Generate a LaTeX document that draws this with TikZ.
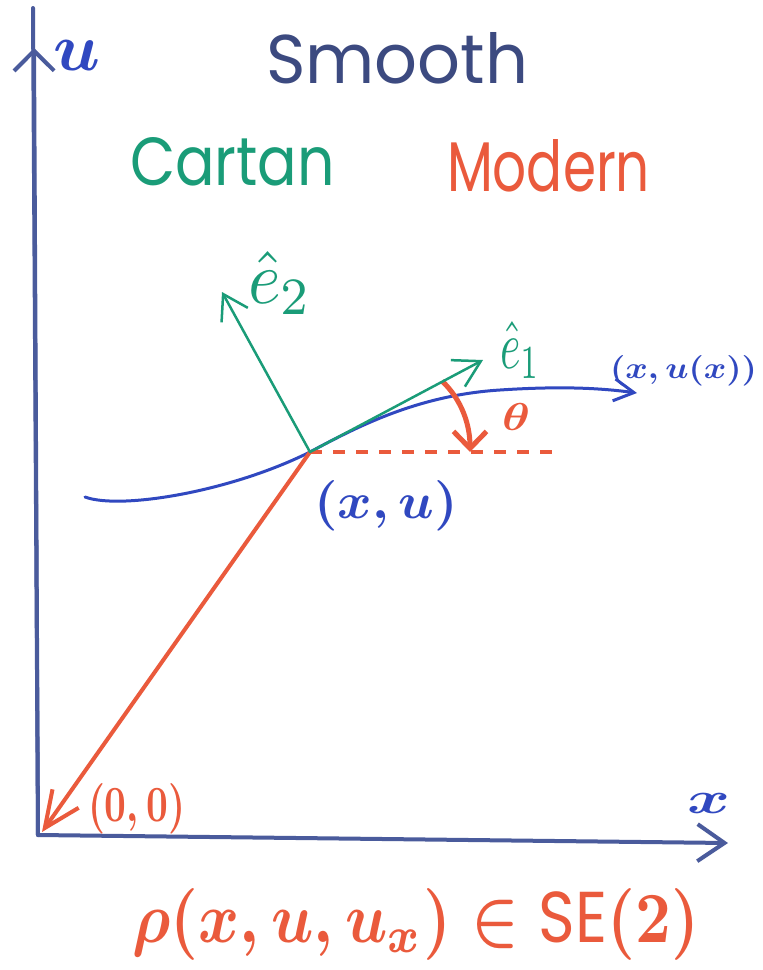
\documentclass[tikz,border=0pt]{standalone}
\usepackage{fontspec}
\usepackage{graphicx}
\setmainfont{Poppins}
\usetikzlibrary{arrows.meta}
\definecolor{axiscol}{HTML}{4A5B9C}
\definecolor{navypen}{HTML}{3C4A80}
\definecolor{bluepen}{HTML}{3048C0}
\definecolor{tealpen}{HTML}{1A9C78}
\definecolor{redpen}{HTML}{EA5A3C}
\begin{document}
\begin{tikzpicture}[x=1pt,y=-1pt,
  lbl/.style={inner sep=0pt, outer sep=0pt, anchor=base west},
  axisline/.style={axiscol, line width=4pt, line cap=round},
  framevec/.style={tealpen, line width=2.5pt, line cap=round},
  curveline/.style={bluepen, line width=3pt, line cap=round},
  redvec/.style={redpen, line width=4pt, line cap=round},
  reddash/.style={redpen, line width=4.5pt, dash pattern=on 12pt off 11pt}
]
\useasboundingbox (0,0) rectangle (763,970);
\fill[white] (0,0) rectangle (763,970);

% key points
\coordinate (O) at (38,835);
\coordinate (Otip) at (42,832);
\coordinate (utop) at (33,8);
\coordinate (uarr) at (34,48);
\coordinate (xend) at (728,843);
\coordinate (P) at (310,452);
\coordinate (E1) at (483,360);
\coordinate (E2) at (222,292);
\coordinate (C0) at (85,497);
\coordinate (C1) at (500,390);
\coordinate (C2) at (637,393);
\coordinate (D1) at (557,452);
\coordinate (T0) at (442,381);
\coordinate (T1) at (470,452);

% axes
\draw[axisline] (O) -- (utop);
\draw[axisline, -{Straight Barb[length=20pt,width=40pt]}] (O) -- (uarr);
\draw[axisline, -{Straight Barb[length=27pt,width=37pt]}] (O) -- (xend);

% curve
\draw[curveline, -{Straight Barb[length=20pt,width=22pt]}] (C0) .. controls (120,510) and (230,492) .. (P)
  .. controls (360,425) and (420,395) .. (C1) .. controls (560,386) and (600,388) .. (C2);

% red position vector and horizontal
\draw[redvec, -{Straight Barb[length=36pt,width=32pt]}] (P) -- (Otip);
\draw[reddash] (P) -- (D1);
\draw[redpen, line width=5pt, -{Straight Barb[length=17pt,width=33pt]}] (T0) .. controls (462,400) and (470,425) .. (T1);

% frame vectors
\draw[framevec, -{Straight Barb[length=24pt,width=30pt]}] (P) -- (E2);
\draw[framevec, -{Straight Barb[length=26pt,width=30pt]}] (P) -- (E1);

% labels
\node[lbl, text=navypen] (smooth) at (266,83) {\resizebox{262pt}{51pt}{Smooth}};
\node[lbl, text=tealpen] (cartan) at (130,185) {\resizebox{205pt}{48pt}{Cartan}};
\node[lbl, text=redpen] (modern) at (447,191) {\resizebox{203pt}{52pt}{Modern}};
\node[lbl, text=bluepen] (ulbl) at (53,70) {\resizebox{47pt}{30pt}{\boldmath$u$}};
\node[lbl, text=bluepen] (xlbl) at (687,813) {\resizebox{43pt}{20pt}{\boldmath$x$}};
\node[lbl, text=tealpen] (e2lbl) at (248,303) {\resizebox{64pt}{52pt}{$\hat{e}_2$}};
\node[lbl, text=tealpen] (e1lbl) at (500,368) {\resizebox{40pt}{47pt}{$\hat{e}_1$}};
\node[lbl, text=bluepen] (culbl) at (610,378) {\resizebox{147pt}{23pt}{\boldmath$(x,u(x))$}};
\node[lbl, text=bluepen] (xulbl) at (314,518) {\resizebox{144pt}{38pt}{\boldmath$(x,u)$}};
\node[lbl, text=redpen] (thlbl) at (502,430) {\resizebox{28pt}{27pt}{\boldmath$\theta$}};
\node[lbl, text=redpen] (oolbl) at (88,821) {\resizebox{97pt}{38pt}{\boldmath$(0,0)$}};
\node[lbl, text=redpen] (se2) at (132,942) {\resizebox{567pt}{54pt}{\boldmath$\rho(x,u,u_x)\in\mbox{SE}(2)$}};
\end{tikzpicture}
\end{document}
